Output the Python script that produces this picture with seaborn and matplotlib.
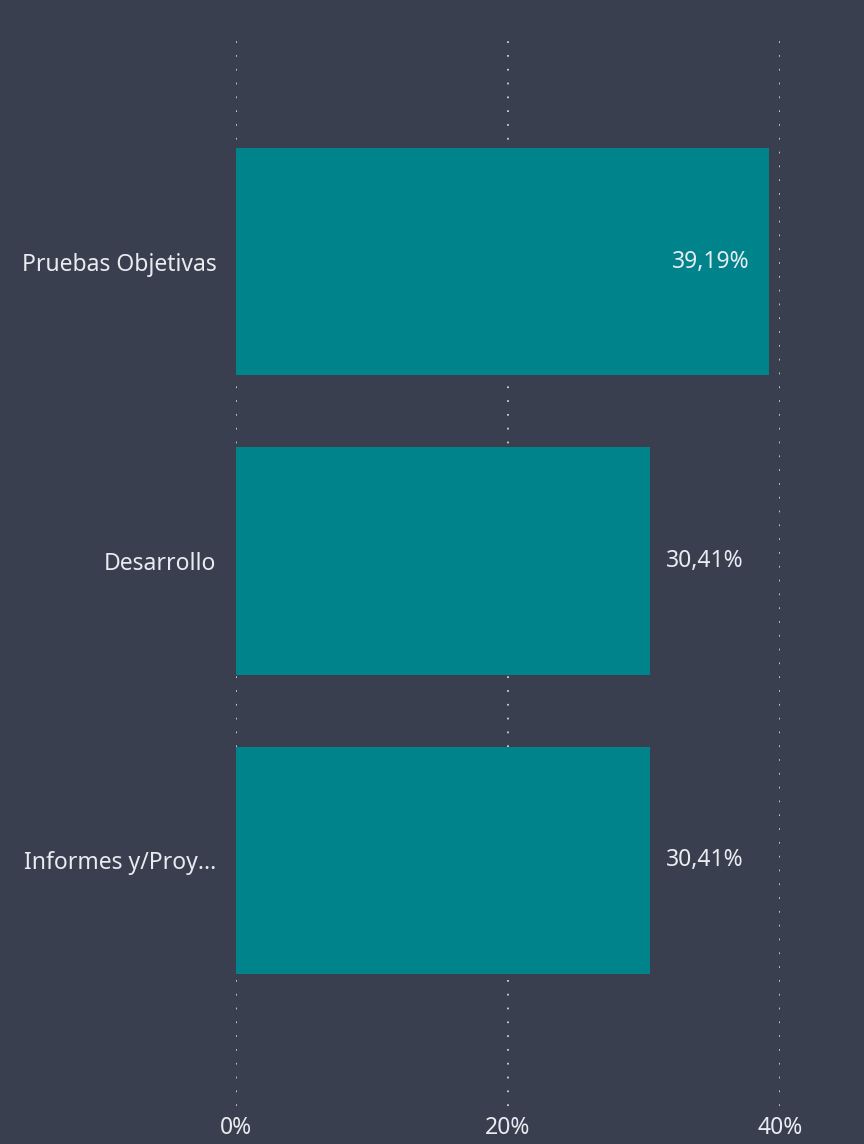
#set up modules
import numpy as np
import pandas as pd
import matplotlib
matplotlib.use("Agg")
import matplotlib.pyplot as plt
import seaborn as sns

#chart values
categories = ["Pruebas Objetivas", "Desarrollo", "Informes y/Proy..."]
values = [39.19, 30.41, 30.41]
tick_values = [0, 20, 40]
tick_labels = ["0%", "20%", "40%"]

bg = "#3a3f50"
bar_color = "#01838b"
text_color = "#e8ebf0"
fs = 16.5

sns.set_theme(style="dark")
plt.rcParams["font.family"] = ["Noto Sans", "DejaVu Sans"]
plt.rcParams["font.stretch"] = "normal"

df = pd.DataFrame({"category": categories, "value": values})

fig = plt.figure(figsize=(8.64, 11.44), dpi=100, facecolor=bg)
ax = fig.add_axes([236/864, 1 - 1106/1144, 544/864, (1106 - 34)/1144])
ax.set_facecolor(bg)

#dotted vertical grid behind the bars
for t in tick_values:
    ax.axvline(t, color="#c4c7cd", lw=1.4, linestyle=(0, (0.9, 6.2)), zorder=0)

sns.barplot(data=df, x="value", y="category", orient="h", color=bar_color,
            saturation=1, width=0.76, linewidth=0, edgecolor=bar_color,
            ax=ax, zorder=2)

ax.set_xlim(0, 40)
ax.set_ylim(2.82, -0.76)
ax.set_xticks(tick_values)
ax.set_xticklabels(tick_labels)
ax.tick_params(axis="x", colors=text_color, labelsize=fs, length=0, pad=7)
ax.tick_params(axis="y", colors=text_color, labelsize=fs, length=0, pad=14)
ax.set_xlabel("")
ax.set_ylabel("")
ax.grid(False)
for s in ax.spines.values():
    s.set_visible(False)

#data labels: inside when the bar is long, outside otherwise
for i, v in enumerate(values):
    txt = f"{v:.2f}".replace(".", ",") + "%"
    if v > 35:
        ax.text(v - 1.4, i, txt, ha="right", va="center", color=text_color,
                fontsize=fs, zorder=3)
    else:
        ax.text(v + 1.2, i, txt, ha="left", va="center", color=text_color,
                fontsize=fs, zorder=3)

fig.savefig("out.png", dpi=100, facecolor=bg)
